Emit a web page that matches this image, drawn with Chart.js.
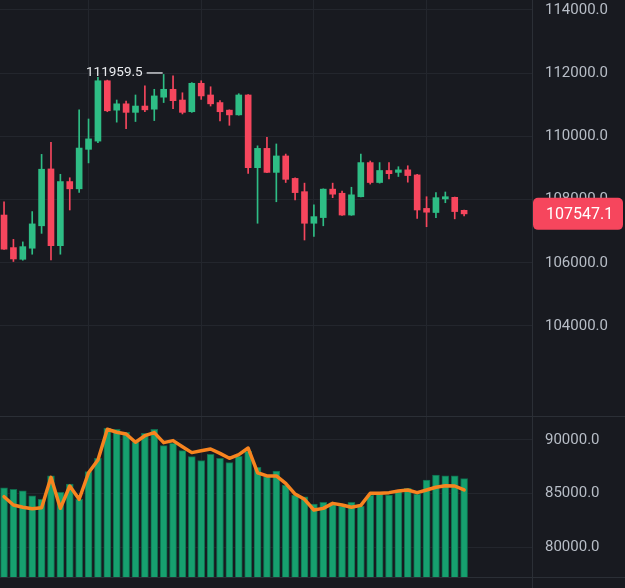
<!DOCTYPE html>
<html>
<head>
<meta charset="utf-8">
<script src="https://cdn.jsdelivr.net/npm/chart.js@4.4.1/dist/chart.umd.min.js"></script>
<style>
  html, body { margin: 0; padding: 0; background: #181a20; }
  #wrap { position: relative; width: 625px; height: 588px; overflow: hidden; }
  #price-box { position: absolute; left: 0; top: 0; width: 625px; height: 416px; }
  #vol-box { position: absolute; left: 0; top: 416px; width: 625px; height: 172px; }
</style>
</head>
<body>
<div id="wrap">
  <div id="price-box"><canvas id="price"></canvas></div>
  <div id="vol-box"><canvas id="volume"></canvas></div>
</div>
<script>
// candles (one per bar, oldest first)
const opens = [107510, 106480, 106110, 106460, 107170, 108970, 106540, 108570, 108340, 109590,
  109850, 111760, 110830, 111030, 110760, 110960, 110860, 111240, 111490, 111150,
  110780, 111680, 111310, 111070, 110830, 110680, 111310, 109010, 109620, 108860,
  109380, 108670, 108250, 107250, 107430, 108330, 108200, 107510, 108090, 109170,
  108540, 108920, 108860, 108940, 108780, 107720, 107590, 108020, 108070, 107660];
const highs = [107930, 106740, 106660, 107620, 109430, 109810, 108800, 108690, 110840, 110550,
  111870, 111780, 111150, 111120, 111310, 111600, 111490, 111959.5, 111920, 111380,
  111700, 111760, 111570, 111130, 110840, 111350, 111320, 109700, 109970, 109760,
  109440, 108690, 108520, 107830, 108340, 108520, 108270, 108390, 109440, 109220,
  109170, 109170, 109040, 109070, 108800, 108090, 108220, 108240, 108080, 107670];
const lows = [106420, 106040, 106080, 106270, 106930, 106090, 106270, 107670, 108230, 109160,
  109800, 110780, 110450, 110240, 110470, 110780, 110500, 111070, 110880, 110710,
  110760, 111170, 110960, 110490, 110350, 110670, 108830, 107250, 108850, 107930,
  108540, 107990, 106720, 106830, 107170, 108060, 107500, 107500, 108080, 108490,
  108520, 108650, 108730, 108550, 107400, 107140, 107430, 107900, 107390, 107480];
const closes = [106430, 106120, 106510, 107230, 108960, 106540, 108570, 108340, 109630, 109920,
  111760, 110810, 111030, 110760, 110960, 110840, 111280, 111490, 111130, 110760,
  111680, 111280, 111030, 110780, 110680, 111310, 109010, 109620, 108860, 109380,
  108640, 108220, 107250, 107460, 108330, 108170, 107510, 108150, 109170, 108540,
  108920, 108820, 108940, 108760, 107670, 107600, 108060, 108090, 107620, 107547.1];

// lower panel
const volumes = [85540, 85390, 85260, 84790, 84460, 86640, 85110, 85890, 84460, 87040,
  88290, 91090, 91000, 90720, 89790, 90630, 91000, 89470, 89690, 89000,
  88440, 88070, 88660, 88290, 87880, 88470, 88940, 87450, 86570, 87100,
  85790, 84860, 84700, 84020, 84170, 84140, 83830, 84170, 83830, 84860,
  84950, 84860, 85260, 85480, 84950, 86260, 86730, 86640, 86640, 86390];
const volumeLine = [84700, 83930, 83710, 83580, 83670, 86510, 83620, 85700, 84460, 86940,
  88130, 91000, 90720, 90560, 89790, 90400, 90690, 89750, 89940, 89370,
  88820, 89000, 89160, 88750, 88290, 88630, 89250, 86940, 86640, 86640,
  85950, 84950, 84460, 83460, 83610, 84080, 83930, 83710, 83890, 85020,
  85020, 85080, 85230, 85330, 85080, 85330, 85580, 85730, 85700, 85330];

const priceTicks = [104000, 106000, 108000, 110000, 112000, 114000];
const volumeTicks = [80000, 85000, 90000];
const timeGridAt = [9, 21, 33, 45];

const RED = '#f6465d';
const GREEN = '#2ebd85';
const GRID = '#23262d';
const AXIS_LINE = '#2b2f36';
const LABEL = '#b7bdc6';
const FONT = 'Roboto';

const candleColors = closes.map((c, i) => (c >= opens[i] ? GREEN : RED));
const idx = closes.map((c, i) => i);

const xScale = (extraHeight) => ({
  type: 'linear',
  min: -0.43,
  max: 56.23,
  bounds: 'data',
  offset: false,
  border: { display: false },
  grid: { color: GRID, offset: false, drawTicks: false },
  ticks: { display: false },
  afterBuildTicks: (scale) => {
    scale.ticks = timeGridAt.map((v) => ({ value: v }));
  },
  afterFit: (scale) => {
    scale.height = extraHeight;
    scale.paddingLeft = 0;
    scale.paddingRight = 0;
  },
});

const yScale = (min, max, tickList) => ({
  position: 'right',
  min,
  max,
  bounds: 'data',
  border: { display: true, color: AXIS_LINE },
  grid: { color: GRID, drawTicks: false },
  ticks: {
    color: LABEL,
    padding: 13,
    font: { family: FONT, size: 15 },
    callback: (v) => Number(v).toFixed(1),
  },
  afterBuildTicks: (scale) => {
    scale.ticks = tickList.map((v) => ({ value: v }));
  },
  afterFit: (scale) => {
    scale.width = 93;
    scale.paddingTop = 0;
    scale.paddingBottom = 0;
  },
});

// last price tag on the right axis
const lastPriceTag = {
  id: 'lastPriceTag',
  afterDraw(chart) {
    const { ctx, chartArea } = chart;
    const price = closes[closes.length - 1];
    const py = chart.scales.y.getPixelForValue(price);
    ctx.save();
    ctx.fillStyle = RED;
    ctx.beginPath();
    ctx.roundRect(chartArea.right + 1, py - 16, chart.width - chartArea.right - 3, 32, 5);
    ctx.fill();
    ctx.fillStyle = '#ffffff';
    ctx.font = `16px ${FONT}`;
    ctx.textBaseline = 'middle';
    ctx.fillText(price.toFixed(1), chartArea.right + 14, py + 1);
    ctx.restore();
  },
};

// highest high marker
const highMarker = {
  id: 'highMarker',
  afterDatasetsDraw(chart) {
    const { ctx } = chart;
    const hi = Math.max(...highs);
    const i = highs.indexOf(hi);
    const px = chart.scales.x.getPixelForValue(i);
    const py = chart.scales.y.getPixelForValue(hi) - 1.5;
    ctx.save();
    ctx.strokeStyle = '#c9ccd1';
    ctx.lineWidth = 1.5;
    ctx.beginPath();
    ctx.moveTo(px - 17, py);
    ctx.lineTo(px - 1, py);
    ctx.stroke();
    ctx.fillStyle = '#eaecef';
    ctx.font = `13.5px ${FONT}`;
    ctx.textAlign = 'right';
    ctx.textBaseline = 'middle';
    ctx.fillText(hi.toFixed(1), px - 21, py);
    ctx.restore();
  },
};

// panel separators for the lower pane
const paneLines = {
  id: 'paneLines',
  afterDraw(chart) {
    const { ctx, chartArea } = chart;
    ctx.save();
    ctx.strokeStyle = AXIS_LINE;
    ctx.lineWidth = 1;
    ctx.beginPath();
    ctx.moveTo(0, 0.5);
    ctx.lineTo(chart.width, 0.5);
    ctx.moveTo(0, Math.round(chartArea.bottom) + 0.5);
    ctx.lineTo(chart.width, Math.round(chartArea.bottom) + 0.5);
    ctx.moveTo(Math.round(chartArea.right) + 0.5, 0);
    ctx.lineTo(Math.round(chartArea.right) + 0.5, chart.height);
    ctx.stroke();
    ctx.restore();
  },
};

const priceChart = new Chart(document.getElementById('price'), {
  type: 'bar',
  data: {
    datasets: [
      {
        label: 'body',
        data: idx.map((i) => ({ x: i, y: [opens[i], closes[i]] })),
        backgroundColor: candleColors,
        barThickness: 6,
        minBarLength: 1,
        grouped: false,
      },
      {
        label: 'wick',
        data: idx.map((i) => ({ x: i, y: [lows[i], highs[i]] })),
        backgroundColor: candleColors,
        barThickness: 1,
        grouped: false,
      },
    ],
  },
  options: {
    responsive: true,
    maintainAspectRatio: false,
    animation: false,
    layout: { padding: 0 },
    plugins: { legend: { display: false }, tooltip: { enabled: false } },
    scales: {
      x: xScale(0),
      y: yScale(101150, 114316, priceTicks),
    },
  },
  plugins: [highMarker, lastPriceTag],
});

const volumeChart = new Chart(document.getElementById('volume'), {
  type: 'bar',
  data: {
    datasets: [
      {
        type: 'line',
        label: 'average',
        data: idx.map((i) => ({ x: i, y: volumeLine[i] })),
        borderColor: '#f7841f',
        borderWidth: 3.5,
        borderJoinStyle: 'round',
        borderCapStyle: 'round',
        pointRadius: 0,
        tension: 0,
      },
      {
        label: 'volume',
        data: idx.map((i) => ({ x: i, y: volumes[i] })),
        backgroundColor: '#16a06f',
        borderColor: '#0f6b4c',
        borderWidth: 1,
        barThickness: 7,
        grouped: false,
      },
    ],
  },
  options: {
    responsive: true,
    maintainAspectRatio: false,
    animation: false,
    layout: { padding: 0 },
    plugins: { legend: { display: false }, tooltip: { enabled: false } },
    scales: {
      x: xScale(11),
      y: yScale(77200, 92240, volumeTicks),
    },
  },
  plugins: [paneLines],
});
</script>
</body>
</html>
